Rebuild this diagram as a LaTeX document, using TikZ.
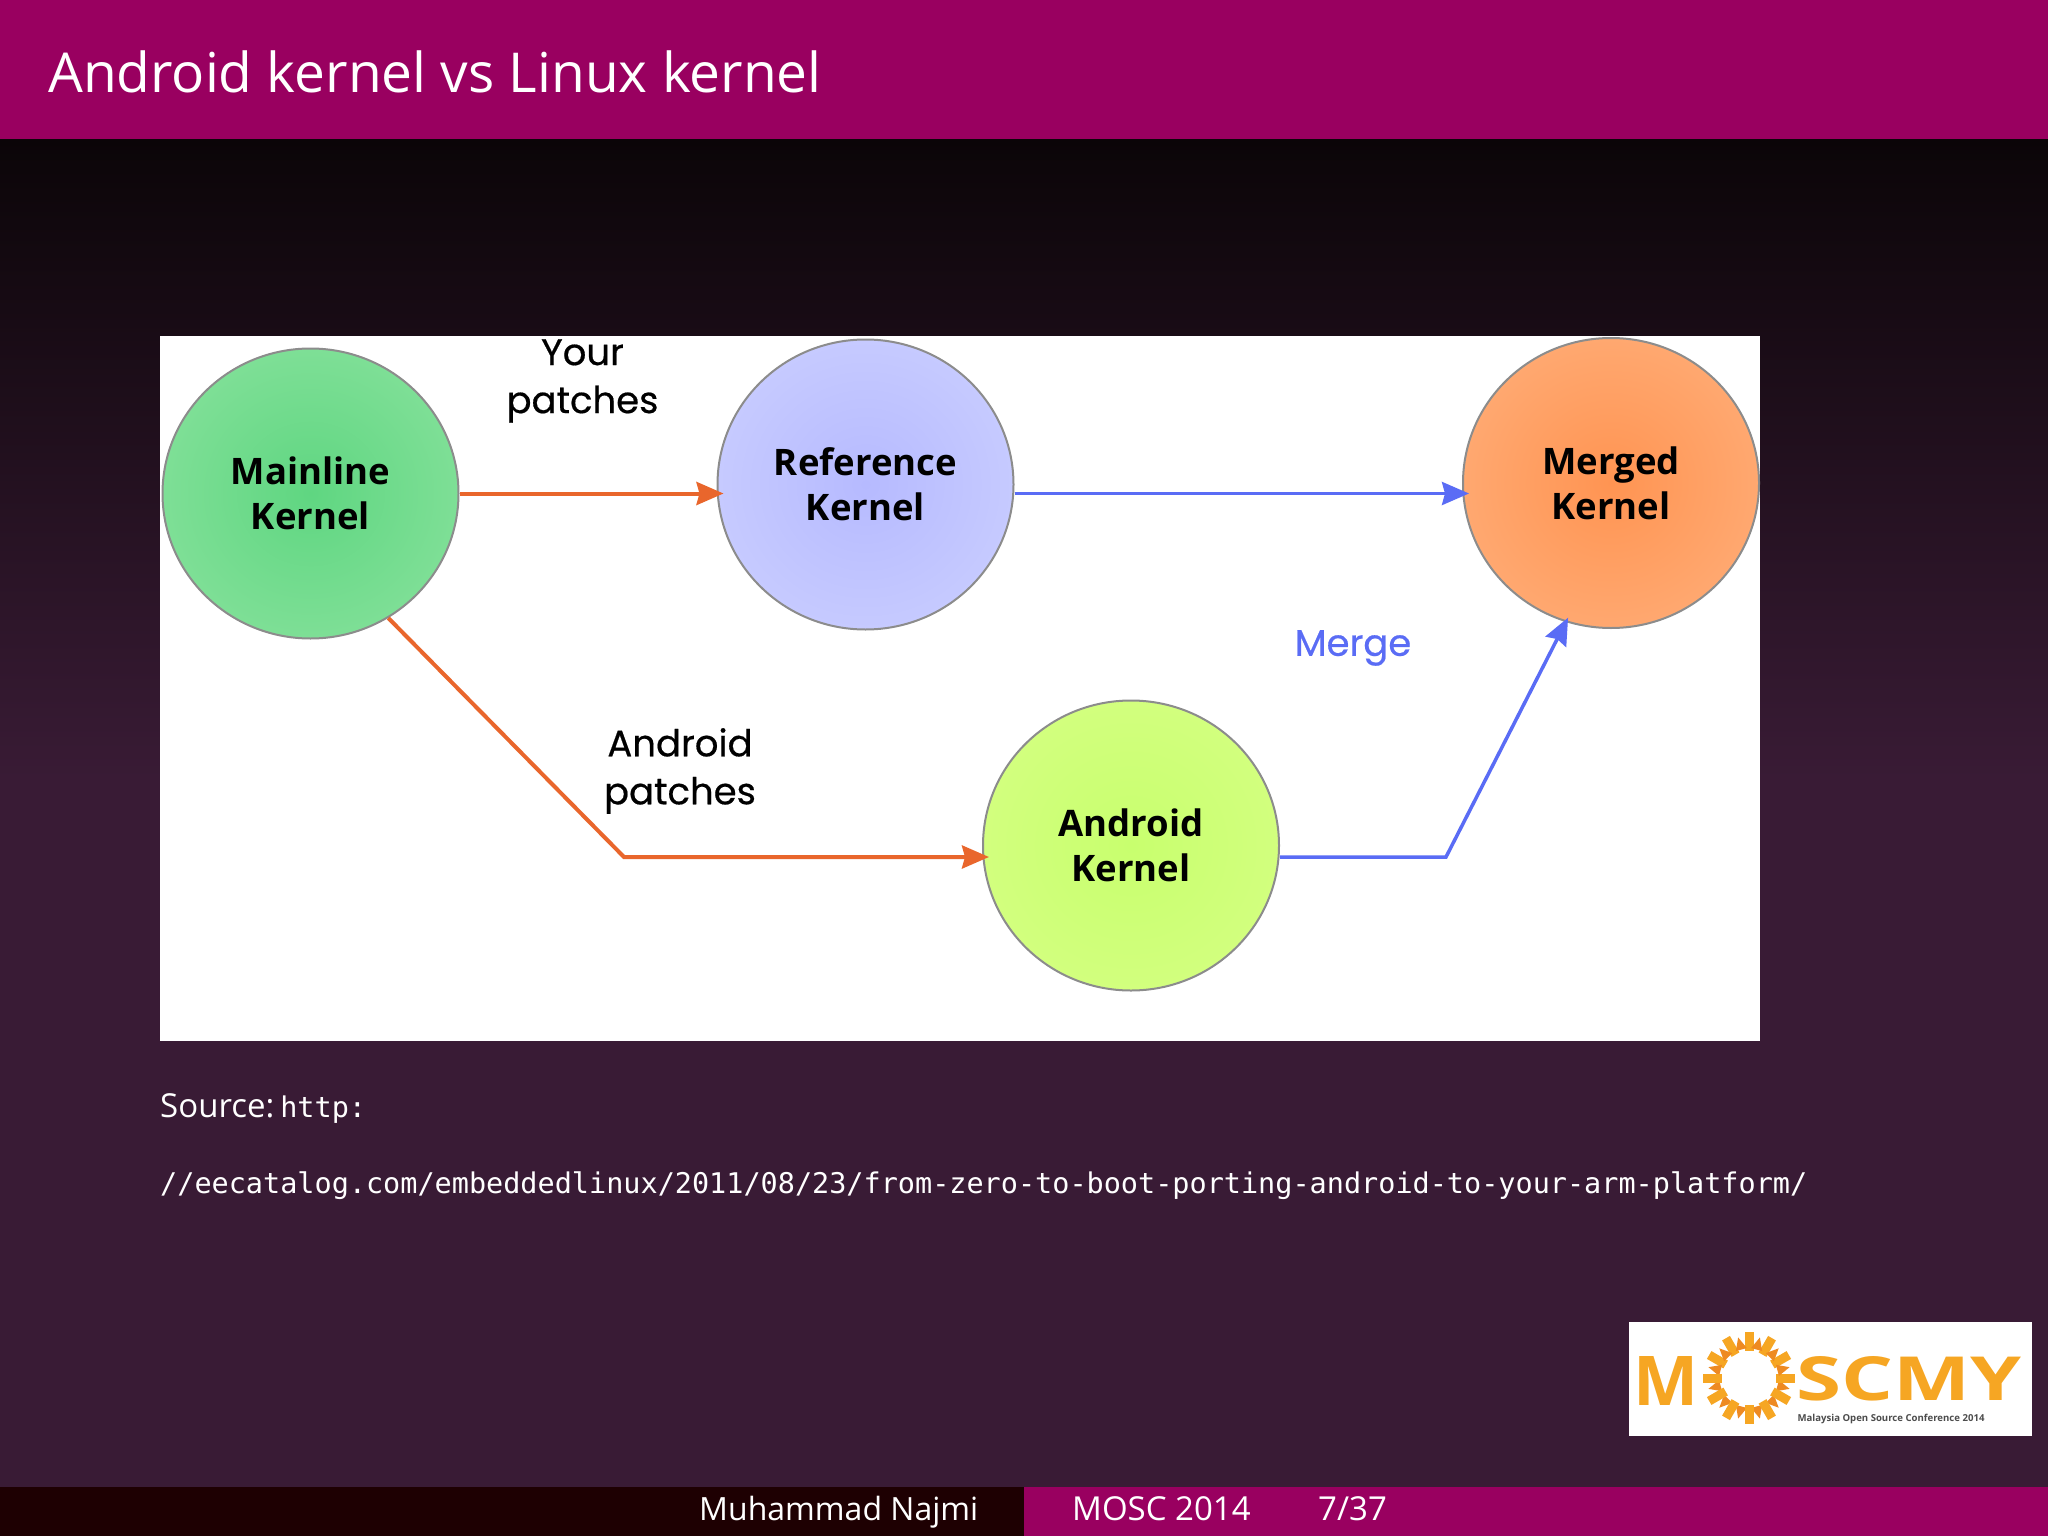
\documentclass[tikz,border=0pt]{standalone}
\usepackage{fontspec}
\setmainfont{Open Sans}
\newfontfamily\roundfont[FakeBold=0.5]{Poppins}
\newfontfamily\codefont{DejaVu Sans Mono}
\usetikzlibrary{arrows.meta}
\usetikzlibrary{shapes.geometric}
\definecolor{plumbar}{HTML}{990060}
\definecolor{plumdark}{HTML}{1E0002}
\definecolor{plumlow}{HTML}{391B35}
\definecolor{plumtop}{HTML}{0B0508}
\definecolor{patchorange}{HTML}{E9662C}
\definecolor{mergeblue}{HTML}{5A6CF5}
\definecolor{logoorange}{HTML}{F6A623}
\definecolor{logodeep}{HTML}{EE8A22}
\definecolor{kernelline}{HTML}{8C8C8C}
\definecolor{greenin}{HTML}{5FD681}
\definecolor{greenout}{HTML}{7EDF96}
\definecolor{bluein}{HTML}{B6BAFF}
\definecolor{blueout}{HTML}{C6CAFF}
\definecolor{orangein}{HTML}{FF9452}
\definecolor{orangeout}{HTML}{FFA870}
\definecolor{limein}{HTML}{C8FF6E}
\definecolor{limeout}{HTML}{D2FF7E}

\begin{document}
\begin{tikzpicture}[x=1pt, y=-1pt,
        kernel/.style={ellipse, draw=kernelline, line width=2pt, inner sep=0pt,
            minimum width=296pt, minimum height=290pt, align=center,
            font=\fontsize{36.5}{45}\selectfont\bfseries},
        patchlabel/.style={align=center, inner sep=0pt, font=\fontsize{37}{48}\selectfont\roundfont},
        slidetext/.style={anchor=base west, inner sep=0pt, text=white},
        barfont/.style={font=\fontsize{#1}{36}\selectfont},
        patch/.style={draw=patchorange, line width=4pt, -{Stealth[length=27pt, width=23pt, inset=3pt]}},
        merge/.style={draw=mergeblue, line width=3.5pt, -{Stealth[length=27pt, width=23pt, inset=3pt]}},
    ]
    \useasboundingbox (0,0) rectangle (2048,1536);
    \shade[top color=plumtop, bottom color=plumlow] (0,139) rectangle (2048,780);
    \fill[plumlow] (0,779) rectangle (2048,1487);
    \fill[plumbar] (0,0) rectangle (2048,139);
    \fill[plumdark] (0,1487) rectangle (1024,1536);
    \fill[plumbar] (1024,1487) rectangle (2048,1536);
    \fill[white] (160,336) rectangle (1760,1041);

    \node[slidetext, barfont=55] (title) at (48,93) {Android kernel vs Linux kernel};

    \node[kernel, inner color=greenin, outer color=greenout] (main) at (310.5,493.5) {Mainline\\Kernel};
    \node[kernel, inner color=bluein, outer color=blueout] (ref) at (865.5,484.5) {Reference\\Kernel};
    \node[kernel, inner color=orangein, outer color=orangeout] (merged) at (1611,483) {Merged\\Kernel};
    \node[kernel, inner color=limein, outer color=limeout] (android) at (1131,845.5) {Android\\Kernel};

    \node[patchlabel] (yours) at (582.5,381) {Your\\patches};
    \node[patchlabel] (androidp) at (680,771) {Android\\patches};
    \node[patchlabel, text=mergeblue] (mergelabel) at (1353,648) {Merge};

    \coordinate (bendp) at (624,857);
    \coordinate (bendm) at (1446,857);
    \draw[patch, shorten >=-7pt] (main.east) -- (main.east -| ref.west);
    \draw[merge, shorten >=-7pt] (ref.east |- main.east) -- (main.east -| merged.west);
    \draw[patch, shorten >=-7pt] (main.-58) -- (bendp) -- (bendp -| android.west);
    \draw[merge, shorten >=-5pt] (bendm -| android.east) -- (bendm) -- (merged.-108);

    \node[slidetext, barfont=33] (source) at (160,1117) {Source:\hspace{6pt}{\codefont\fontsize{28.5}{36}\selectfont http:}};
    \node[slidetext, font=\fontsize{28.5}{36}\selectfont\codefont] (url) at (160,1193)
        {//eecatalog.com/embeddedlinux/2011/08/23/from-zero-to-boot-porting-android-to-your-arm-platform/};

    \node[slidetext, barfont=32] (author) at (699,1520) {Muhammad Najmi};
    \node[slidetext, barfont=33] (event) at (1072,1520) {MOSC 2014};
    \node[slidetext, barfont=33] (page) at (1318,1520) {7/37};

    \fill[white] (1629,1322) rectangle (2032,1436);
    \foreach \a in {0,30,...,330} {
        \fill[logodeep, shift={(1749,1378)}] (\a+4:30) -- (\a+15:42) -- (\a+26:30) -- cycle;
        \fill[logoorange, shift={(1749,1378)}, rotate=\a] (27,-4.5) rectangle (46,4.5);
    }
    \node[inner sep=0pt, text=logoorange, font=\bfseries] (logom) at (1666.5,1381) {\resizebox{65pt}{49pt}{M}};
    \node[inner sep=0pt, text=logoorange, font=\bfseries] (logos) at (1908.5,1379) {\resizebox{225pt}{44pt}{SCMY}};
    \node[inner sep=0pt, text=black!70, font=\fontsize{9.6}{12}\selectfont\bfseries] (logot) at (1891,1419) {Malaysia Open Source Conference 2014};
\end{tikzpicture}
\end{document}
